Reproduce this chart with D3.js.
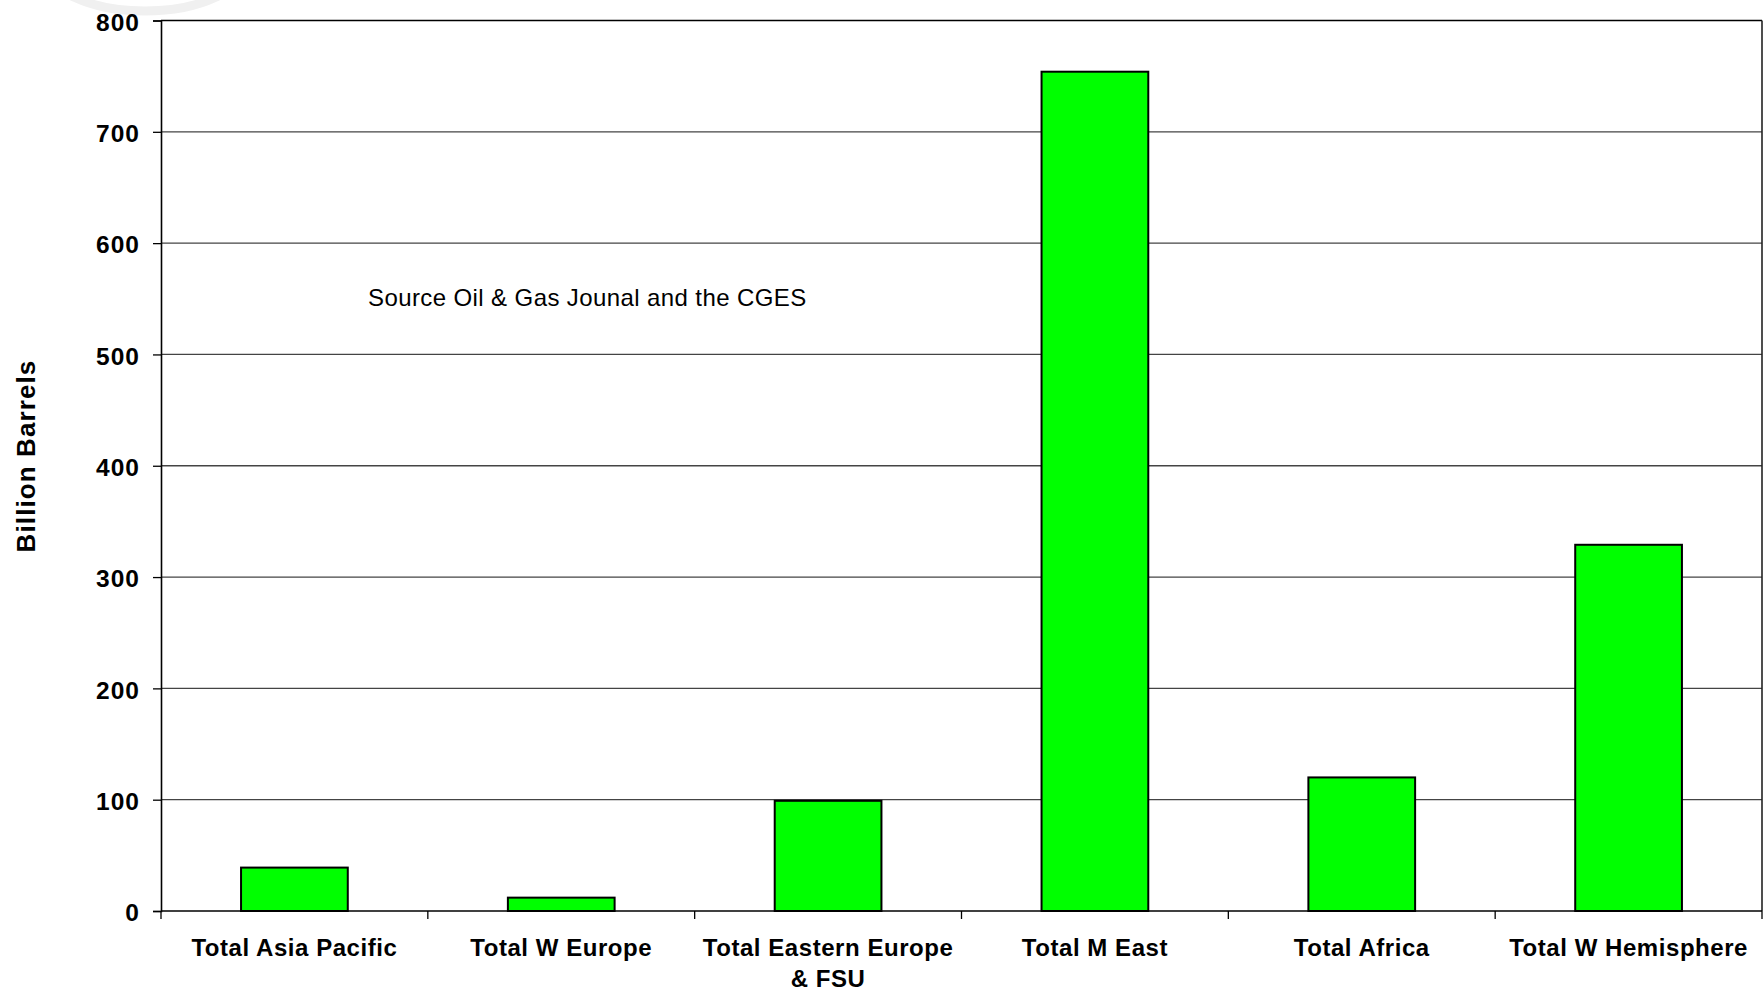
<!DOCTYPE html>
<html>
<head>
<meta charset="utf-8">
<script src="https://cdn.jsdelivr.net/npm/d3@7"></script>
<style>
  html, body { margin: 0; padding: 0; background: #ffffff; }
  svg { display: block; }
  text { font-family: "Liberation Sans", Arial, Helvetica, sans-serif; fill: #000; }
</style>
</head>
<body>
<svg id="chart" width="1763" height="992"></svg>
<script>
// Proven oil reserves by region, billion barrels
const categories = [
  "Total Asia Pacific",
  "Total W Europe",
  "Total Eastern Europe & FSU",
  "Total M East",
  "Total Africa",
  "Total W Hemisphere"
];
const reserves = [39, 12, 99, 754, 120, 329];
const yTicks = [0, 100, 200, 300, 400, 500, 600, 700, 800];
const yLabel = "Billion Barrels";
const sourceNote = "Source Oil & Gas Jounal and the CGES";

const W = 1763, H = 992;
const plot = { left: 161, top: 20.5, right: 1762, bottom: 911 };

const svg = d3.select("#chart");

// faint logo ring peeking in at the top-left corner
svg.append("ellipse")
  .attr("cx", 145).attr("cy", -36)
  .attr("rx", 100).attr("ry", 47)
  .attr("fill", "none")
  .attr("stroke", "#f0f0f0")
  .attr("stroke-width", 9);

const x = d3.scaleBand()
  .domain(categories)
  .range([plot.left, plot.right])
  .paddingInner(0.6)
  .paddingOuter(0.3);

const y = d3.scaleLinear()
  .domain([0, 800])
  .range([plot.bottom, plot.top]);

// horizontal gridlines
svg.append("g")
  .selectAll("line")
  .data(yTicks.filter(v => v > 0 && v < 800))
  .join("line")
  .attr("x1", plot.left).attr("x2", plot.right)
  .attr("y1", d => y(d)).attr("y2", d => y(d))
  .attr("stroke", "#444")
  .attr("stroke-width", 1.3);

// plot frame: top and right edges
svg.append("line")
  .attr("x1", plot.left).attr("x2", plot.right)
  .attr("y1", y(800)).attr("y2", y(800))
  .attr("stroke", "#000").attr("stroke-width", 1.6);
svg.append("line")
  .attr("x1", plot.right).attr("x2", plot.right)
  .attr("y1", y(800)).attr("y2", y(0))
  .attr("stroke", "#222").attr("stroke-width", 1.6);

// bars
svg.append("g")
  .selectAll("rect")
  .data(categories.map((c, i) => ({ c, v: reserves[i] })))
  .join("rect")
  .attr("x", d => x(d.c))
  .attr("width", x.bandwidth())
  .attr("y", d => y(d.v))
  .attr("height", d => y(0) - y(d.v))
  .attr("fill", "#00ff00")
  .attr("stroke", "#000")
  .attr("stroke-width", 2);

// y axis
const yAxis = svg.append("g")
  .attr("transform", `translate(${plot.left},0)`)
  .call(d3.axisLeft(y).tickValues(yTicks).tickSize(8).tickPadding(13).tickFormat(d3.format("d")));
yAxis.select(".domain").attr("stroke", "#000").attr("stroke-width", 1.6);
yAxis.selectAll(".tick line").attr("stroke", "#000").attr("stroke-width", 1.3);
yAxis.selectAll(".tick text")
  .attr("font-family", "'Liberation Sans', Arial, sans-serif")
  .attr("font-size", 24.5)
  .attr("font-weight", "bold")
  .attr("letter-spacing", "1px")
  .attr("dy", "0.40em");

// x axis line with ticks at category boundaries
const step = x.step();
const boundaries = d3.range(categories.length + 1).map(i => plot.left + i * step);
svg.append("line")
  .attr("x1", plot.left).attr("x2", plot.right)
  .attr("y1", y(0)).attr("y2", y(0))
  .attr("stroke", "#000").attr("stroke-width", 1.6);
svg.append("g")
  .selectAll("line")
  .data(boundaries)
  .join("line")
  .attr("x1", d => d).attr("x2", d => d)
  .attr("y1", y(0)).attr("y2", y(0) + 8)
  .attr("stroke", "#000").attr("stroke-width", 1.3);

// category labels, wrapped to the band width
const labels = svg.append("g")
  .selectAll("text")
  .data(categories)
  .join("text")
  .attr("x", d => x(d) + x.bandwidth() / 2)
  .attr("y", y(0) + 44.7)
  .attr("text-anchor", "middle")
  .attr("font-size", 24)
  .attr("font-weight", "bold")
  .attr("letter-spacing", "0.55px");

labels.each(function (d) {
  const t = d3.select(this);
  const cx = x(d) + x.bandwidth() / 2;
  const words = d.split(" ");
  const maxW = step - 8;
  let line = [];
  let tspan = t.append("tspan").attr("x", cx).attr("dy", 0);
  words.forEach(w => {
    line.push(w);
    tspan.text(line.join(" "));
    if (tspan.node().getComputedTextLength() > maxW && line.length > 1) {
      line.pop();
      tspan.text(line.join(" "));
      line = [w];
      tspan = t.append("tspan").attr("x", cx).attr("dy", 31).text(w);
    }
  });
});

// y axis title
svg.append("text")
  .attr("transform", `translate(35,${456}) rotate(-90)`)
  .attr("text-anchor", "middle")
  .attr("font-size", 26)
  .attr("font-weight", "bold")
  .attr("letter-spacing", "1.1px")
  .text(yLabel);

// source note
svg.append("text")
  .attr("x", 368)
  .attr("y", 306)
  .attr("font-size", 24)
  .attr("letter-spacing", "0.4px")
  .text(sourceNote);
</script>
</body>
</html>
